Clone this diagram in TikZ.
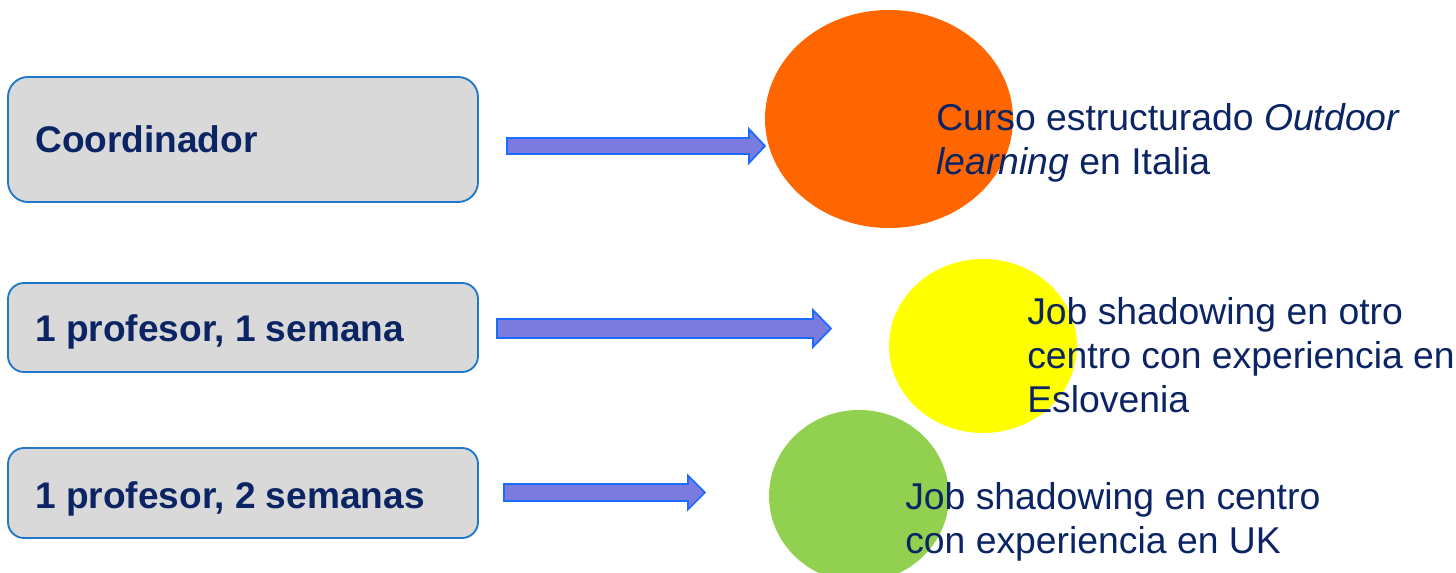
\documentclass[tikz,border=0pt]{standalone}
\usepackage{fontspec}
\setmainfont{Liberation Sans}
\definecolor{navy}{HTML}{0B2463}
\definecolor{boxfill}{HTML}{D9D9D9}
\definecolor{boxline}{HTML}{1F78C8}
\definecolor{arrfill}{HTML}{7A7ADF}
\definecolor{arrline}{HTML}{1A6BFF}
\definecolor{orng}{HTML}{FF6600}
\definecolor{yell}{HTML}{FFFF00}
\definecolor{grn}{HTML}{92D050}
\newcommand{\blockarr}[6]{% x0, xbase, xtip, yc, halfshaft, halfhead
  \draw[arrowshape] (#1,#4-#5) -- (#2,#4-#5) -- (#2,#4-#6) -- (#3,#4) -- (#2,#4+#6) -- (#2,#4+#5) -- (#1,#4+#5) -- cycle;}
\begin{document}
\begin{tikzpicture}[x=0.75pt,y=-0.75pt,
  rolebox/.style={draw=boxline,line width=1.4pt,fill=boxfill},
  roletext/.style={anchor=base west,inner sep=0pt,text=navy,font=\fontsize{27.8}{33}\selectfont\bfseries},
  arrowshape/.style={draw=arrline,line width=1.3pt,fill=arrfill,line join=miter},
  desctext/.style={anchor=base west,inner sep=0pt,text=navy,align=left,font=\fontsize{28}{33}\selectfont}]
\useasboundingbox (0,0) rectangle (1456,573);
\clip (0,0) rectangle (1456,573);
% boxes
\draw[rolebox,rounded corners=15] (8,77) rectangle (478,202);
\draw[rolebox,rounded corners=12] (8,283) rectangle (478,372);
\draw[rolebox,rounded corners=12] (8,448) rectangle (478,538);
\node[roletext] (coord) at (35,153) {Coordinador};
\node[roletext] (prof1) at (35,342) {1 profesor, 1 semana};
\node[roletext] (prof2) at (35,508) {1 profesor, 2 semanas};
% arrows
\blockarr{507}{749}{765}{146}{8}{17}
\blockarr{497}{813}{831}{328.5}{9.5}{18.5}
\blockarr{504}{688}{705}{492.5}{8.5}{17}
% ellipses
\fill[orng] (889,119) ellipse [x radius=124, y radius=109];
\fill[yell] (983,346) ellipse [x radius=94, y radius=87];
\fill[grn] (859,496) ellipse [x radius=90, y radius=86];
% texts
\node[desctext] (italia) at (936,175) {Curso estructurado \textit{Outdoor}\\\textit{learning} en Italia};
\node[desctext] (eslov) at (1027,412) {Job shadowing en otro\\centro con experiencia en\\Eslovenia};
\node[desctext] (uk) at (905,553) {Job shadowing en centro\\con experiencia en UK};
\end{tikzpicture}
\end{document}
